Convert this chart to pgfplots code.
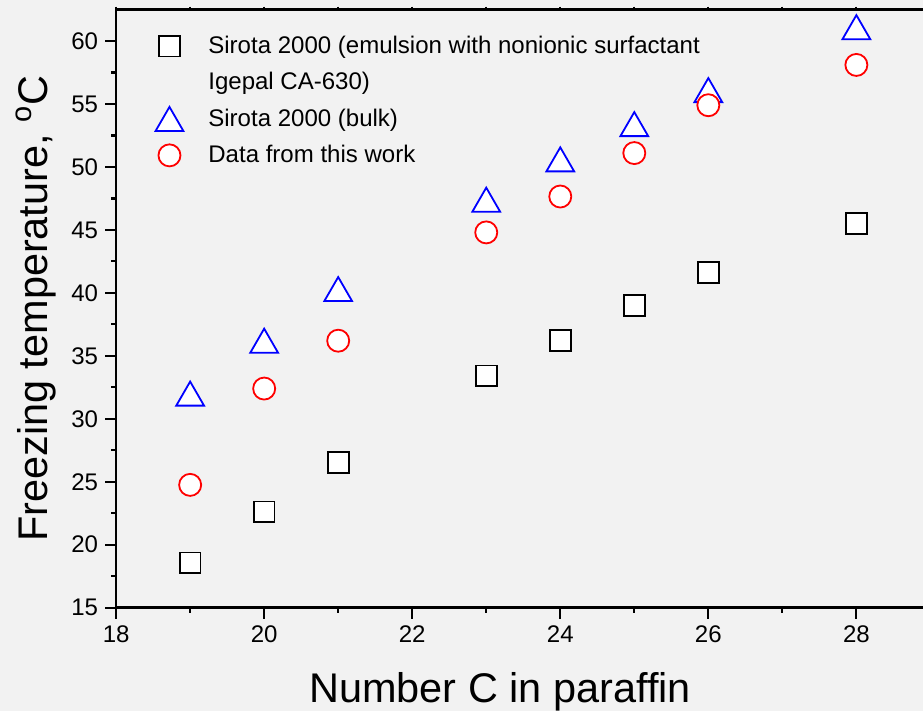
\documentclass[border=0pt]{standalone}
\usepackage{fontspec}
\setmainfont{Liberation Sans}
\usepackage{pgfplots}
\pgfplotsset{compat=1.18}
\usetikzlibrary{backgrounds}
\definecolor{bg}{HTML}{F2F2F2}

\begin{document}
\begin{tikzpicture}
  \begin{axis}[
    scale only axis,
    width=403pt, height=298.75pt,
    xmin=18, xmax=28.9,
    ymin=15, ymax=62.5,
    axis x line=bottom, axis y line=left,
    axis line style={-, line width=1.3pt},
    xtick={18,20,...,28}, minor x tick num=1,
    ytick={15,20,...,60}, minor y tick num=1,
    tick align=outside,
    major tick length=5.5pt, minor tick length=2.5pt,
    every tick/.style={black, line width=1.1pt},
    tick label style={font=\fontsize{12}{14}\selectfont},
    /pgf/number format/assume math mode=true,
    xlabel={Number C in paraffin},
    ylabel={Freezing temperature, \textsuperscript{o}C},
    label style={font=\fontsize{20.7}{24}\selectfont},
    xlabel style={at={([yshift=-47.5pt]rel axis cs:0.476,0)}, anchor=base},
    ylabel style={at={([xshift=-34.5pt]rel axis cs:0,0.5)}, anchor=base},
    legend style={draw=none, fill=none, at={(rel axis cs:0.037,0.97)},
      anchor=north west, font=\fontsize{12}{14}\selectfont, row sep=4pt,
      /tikz/every odd column/.append style={column sep=10.5pt}},
    legend cell align=left,
  ]
    \coordinate (ll) at (rel axis cs:0,0);
    \coordinate (ur) at (rel axis cs:1,1);

    \addplot[only marks, mark=square*, mark size=5.2pt,
      mark options={draw=black, fill=white, line width=0.9pt}]
      coordinates {(19,18.55) (20,22.6) (21,26.55) (23,33.4) (24,36.2) (25,39.0) (26,41.6) (28,45.5)};
    \addlegendentry{Sirota 2000 (emulsion with nonionic surfactant}
    \addlegendimage{empty legend}
    \addlegendentry{Igepal CA-630)}

    \addplot[only marks, mark=triangle*, mark size=8.0pt,
      mark options={draw=blue, fill=white, line width=0.9pt, yshift=-2pt}]
      coordinates {(19,32.0) (20,36.2) (21,40.3) (23,47.4) (24,50.6) (25,53.4) (26,56.1) (28,61.1)};
    \addlegendentry{Sirota 2000 (bulk)}

    \addplot[only marks, mark=*, mark size=5.5pt,
      mark options={draw=red, fill=white, line width=0.9pt}]
      coordinates {(19,24.75) (20,32.4) (21,36.2) (23,44.8) (24,47.65) (25,51.1) (26,54.9) (28,58.1)};
    \addlegendentry{Data from this work}
  \end{axis}

  % top frame line with its short outward ticks
  \begin{axis}[
    scale only axis,
    width=403pt, height=298.75pt,
    xmin=18, xmax=28.9,
    ymin=15, ymax=62.5,
    axis x line=top, axis y line=none,
    axis line style={-, line width=1.3pt},
    xtick={18,20,...,28}, minor x tick num=1,
    xticklabels={},
    tick align=outside,
    major tick length=1.5pt, minor tick length=1.5pt,
    every tick/.style={black, line width=1.1pt},
  ]
  \end{axis}

  \pgfresetboundingbox
  \path[use as bounding box] ([xshift=-58pt,yshift=-51.65pt]ll) rectangle ([yshift=4.75pt]ur);
  \begin{scope}[on background layer]
    \fill[bg] ([xshift=-58pt,yshift=-51.65pt]ll) rectangle ([yshift=4.75pt]ur);
  \end{scope}
\end{tikzpicture}
\end{document}
